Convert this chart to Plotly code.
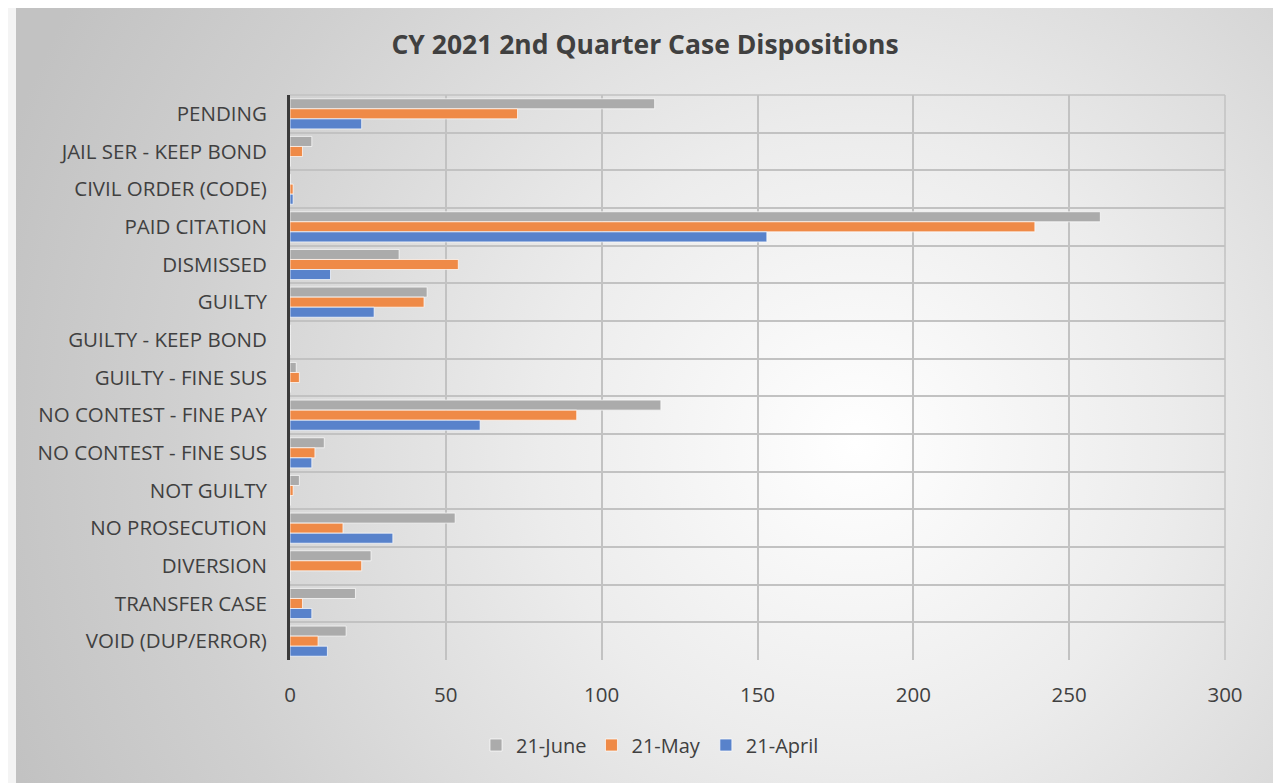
import base64
import plotly.graph_objects as go

categories = [
    "PENDING", "JAIL SER - KEEP BOND", "CIVIL ORDER (CODE)", "PAID CITATION",
    "DISMISSED", "GUILTY", "GUILTY - KEEP BOND", "GUILTY - FINE SUS",
    "NO CONTEST - FINE PAY", "NO CONTEST - FINE SUS", "NOT GUILTY",
    "NO PROSECUTION", "DIVERSION", "TRANSFER CASE", "VOID (DUP/ERROR)",
]
june = [117, 7, 0, 260, 35, 44, 0, 2, 119, 11, 3, 53, 26, 21, 18]
may = [73, 4, 1, 239, 54, 43, 0, 3, 92, 8, 1, 17, 23, 4, 9]
april = [23, 0, 1, 153, 13, 27, 0, 0, 61, 7, 0, 33, 0, 7, 12]
series_names = ["21-June", "21-May", "21-April"]
x_ticks = [0, 50, 100, 150, 200, 250, 300]
title_text = "CY 2021 2nd Quarter Case Dispositions"

colors = ["#ABABAB", "#EF8A47", "#5882CB"]
GRID = "#c2c2c2"

OFF = 8  # page body margin
W, H = 1281 - OFF, 783 - OFF
L, R, T, B = 290 - OFF, 1281 - 1225, 95 - OFF, 783 - 660
pw, ph = W - L - R, H - T - B

svg = '''<svg xmlns="http://www.w3.org/2000/svg" width="1258" height="790" viewBox="0 0 1258 790" preserveAspectRatio="none">
<defs><radialGradient id="g" gradientUnits="userSpaceOnUse" cx="840" cy="440" r="900">
<stop offset="0" stop-color="#ffffff"/><stop offset="0.35" stop-color="#ececec"/>
<stop offset="0.75" stop-color="#d0d0d0"/><stop offset="1" stop-color="#c2c2c2"/></radialGradient></defs>
<rect x="0" y="0" width="1258" height="790" fill="url(#g)"/></svg>'''
src = "data:image/svg+xml;base64," + base64.b64encode(svg.encode()).decode()


def px(x):
    return (x - OFF - L) / pw


def py(y):
    return (H - B - (y - OFF)) / ph


fig = go.Figure()
for name, vals, col in zip(series_names, [june, may, april], colors):
    fig.add_trace(go.Bar(
        y=categories, x=vals, name=name, orientation="h",
        marker=dict(color=col, line=dict(color="rgba(255,255,255,0.7)", width=1)),
    ))

fig.add_layout_image(dict(
    source=src, xref="paper", yref="paper", x=px(16), y=py(3),
    sizex=1258 / pw, sizey=790 / ph, sizing="stretch", layer="below",
    xanchor="left", yanchor="top",
))
fig.add_shape(type="path", xref="paper", yref="paper",
              path=f"M {px(1275)} {py(462)} L {px(1281)} {py(452)} "
                   f"L {px(1281)} {py(783)} L {px(1275)} {py(783)} Z",
              fillcolor="#3b9bcf", line=dict(width=0), layer="below")
# top boundary gridline and right-most gridline of the plot frame
fig.add_shape(type="line", xref="paper", yref="paper", x0=0, x1=1, y0=1, y1=1,
              line=dict(color=GRID, width=1.5), layer="below")
fig.add_shape(type="line", xref="paper", yref="paper", x0=1, x1=1, y0=0, y1=1,
              line=dict(color=GRID, width=1.5), layer="below")

fig.update_layout(
    width=W, height=H,
    margin=dict(l=L, r=R, t=T, b=B),
    paper_bgcolor="#f4f4f4", plot_bgcolor="rgba(0,0,0,0)",
    barmode="group", bargap=0.2, bargroupgap=0,
    title=dict(text=f"<b>{title_text}</b>", x=(645 - OFF) / W, xanchor="center",
               y=1 - (45 - OFF) / H, yanchor="middle",
               font=dict(family="Open Sans", size=26.5, color="#404040")),
    font=dict(family="Open Sans", color="#404040"),
    legend=dict(orientation="h", x=px(650), xanchor="center",
                y=py(745), yanchor="middle",
                font=dict(size=20, color="#404040"), bgcolor="rgba(0,0,0,0)",
                traceorder="normal", itemwidth=30),
    showlegend=True,
)
fig.update_xaxes(
    range=[0, 300], tickvals=x_ticks, showgrid=True, gridcolor=GRID, gridwidth=1.5,
    zeroline=False, showline=False, ticks="", ticklabelstandoff=20,
    tickfont=dict(size=20.5, color="#404040"), fixedrange=True,
)
fig.update_yaxes(
    autorange="reversed", tickson="boundaries", showgrid=True, gridcolor=GRID,
    gridwidth=1.5, showline=True, linecolor="#3a3a3a", linewidth=3, ticks="",
    ticklabelstandoff=16, tickfont=dict(size=20.5, color="#404040"), fixedrange=True,
)
fig.write_html("out.html")
